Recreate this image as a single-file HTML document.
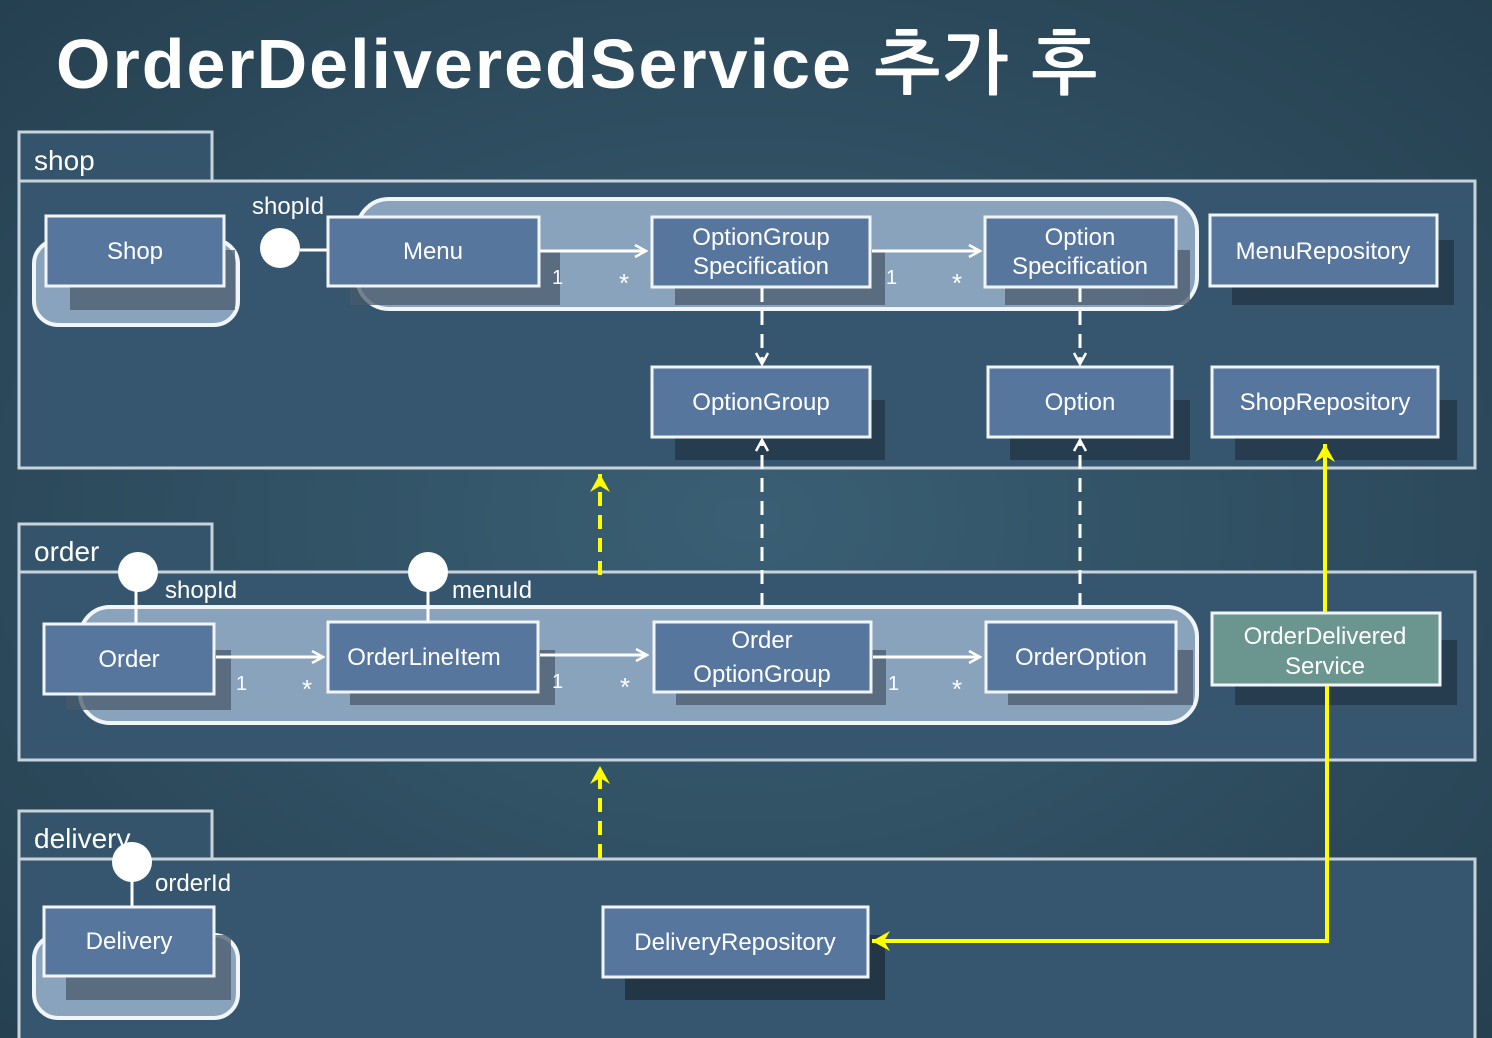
<!DOCTYPE html>
<html><head><meta charset="utf-8"><style>
html,body{margin:0;padding:0;}
body{width:1492px;height:1038px;overflow:hidden;background:#2c4a5c;}
svg{display:block;}
text{font-family:"Liberation Sans","NanumGothic",sans-serif;fill:#fff;}
</style></head><body>
<svg width="1492" height="1038" viewBox="0 0 1492 1038" xmlns="http://www.w3.org/2000/svg">
<defs>
<radialGradient id="bg" cx="50%" cy="50%" r="75%">
<stop offset="0" stop-color="#3a5f74"/><stop offset="1" stop-color="#243e4e"/>
</radialGradient>
<marker id="wa" markerWidth="14" markerHeight="14" refX="12" refY="7" orient="auto" markerUnits="userSpaceOnUse"><path d="M1,1 L12,7 L1,13" fill="none" stroke="#fff" stroke-width="2.5"/></marker>
<marker id="ya" markerWidth="24" markerHeight="24" refX="20" refY="12" orient="auto" markerUnits="userSpaceOnUse"><path d="M2,2 L20,12 L2,22 L8,12 Z" fill="#ffff00"/></marker>
</defs>
<rect width="1492" height="1038" fill="url(#bg)"/>
<text x="56" y="88" font-size="70" font-weight="bold" letter-spacing="2" style="font-family:'Liberation Sans','NanumGothic',sans-serif">OrderDeliveredService 추가 후</text>

<g stroke="#c8d2da" stroke-width="3" fill="#36566f">
<rect x="19" y="132" width="193" height="49" fill="#34546c"/>
<rect x="19" y="181" width="1456" height="287"/>
<rect x="19" y="524" width="193" height="48" fill="#34546c"/>
<rect x="19" y="572" width="1456" height="188"/>
<rect x="19" y="811" width="193" height="48" fill="#34546c"/>
<rect x="19" y="859" width="1456" height="182"/>
</g>
<text x="34" y="170" font-size="28">shop</text>
<text x="34" y="561" font-size="28">order</text>
<text x="34" y="848" font-size="28">delivery</text>

<g stroke="#f2f5f8" stroke-width="4" fill="#8aa3bd">
<rect x="34" y="240" width="204" height="85" rx="24"/>
<rect x="357" y="199" width="840" height="110" rx="32"/>
<rect x="80" y="607" width="1117" height="116" rx="30"/>
<rect x="34" y="935" width="204" height="83" rx="24"/>
</g>

<g fill="#4a596b" opacity="0.75">
<rect x="70" y="250" width="165" height="60"/>
<rect x="350" y="250" width="210" height="55"/>
<rect x="675" y="250" width="210" height="55"/>
<rect x="1005" y="250" width="185" height="55"/>
<rect x="1232" y="240" width="222" height="65" fill="#223444"/>
<rect x="675" y="400" width="210" height="60" fill="#223444"/>
<rect x="1010" y="400" width="180" height="60" fill="#223444"/>
<rect x="1235" y="400" width="222" height="60" fill="#223444"/>
<rect x="66" y="650" width="165" height="60"/>
<rect x="350" y="650" width="205" height="55"/>
<rect x="676" y="650" width="210" height="55"/>
<rect x="1008" y="650" width="185" height="55"/>
<rect x="1235" y="640" width="222" height="65" fill="#223444"/>
<rect x="66" y="935" width="165" height="65"/>
<rect x="625" y="935" width="260" height="65" fill="#1c2c38"/>
</g>

<g stroke="#fff" stroke-width="3" fill="none">
<line x1="540" y1="251" x2="646" y2="251" marker-end="url(#wa)"/>
<line x1="872" y1="251" x2="980" y2="251" marker-end="url(#wa)"/>
<line x1="216" y1="657" x2="323" y2="657" marker-end="url(#wa)"/>
<line x1="540" y1="655" x2="647" y2="655" marker-end="url(#wa)"/>
<line x1="873" y1="657" x2="980" y2="657" marker-end="url(#wa)"/>
<line x1="762" y1="288" x2="762" y2="364" stroke-dasharray="14 9" marker-end="url(#wa)"/>
<line x1="1080" y1="288" x2="1080" y2="364" stroke-dasharray="14 9" marker-end="url(#wa)"/>
<line x1="762" y1="607" x2="762" y2="440" stroke-dasharray="14 9" marker-end="url(#wa)"/>
<line x1="1080" y1="607" x2="1080" y2="440" stroke-dasharray="14 9" marker-end="url(#wa)"/>
<line x1="300" y1="250" x2="328" y2="250"/>
<line x1="136" y1="575" x2="136" y2="624"/>
<line x1="428" y1="575" x2="428" y2="622"/>
<line x1="132" y1="865" x2="132" y2="907"/>
</g>
<g fill="#fff">
<circle cx="280" cy="248" r="20"/>
<circle cx="138" cy="572" r="20"/>
<circle cx="428" cy="572" r="20"/>
<circle cx="132" cy="862" r="20"/>
</g>
<g font-size="24">
<text x="252" y="214">shopId</text>
<text x="165" y="598">shopId</text>
<text x="452" y="598">menuId</text>
<text x="155" y="891">orderId</text>
</g>
<g font-size="20" fill="#e8eef3">
<text x="552" y="284">1</text><text x="619" y="292" font-size="26">*</text>
<text x="886" y="284">1</text><text x="952" y="292" font-size="26">*</text>
<text x="236" y="690">1</text><text x="302" y="698" font-size="26">*</text>
<text x="552" y="688">1</text><text x="620" y="696" font-size="26">*</text>
<text x="888" y="690">1</text><text x="952" y="698" font-size="26">*</text>
</g>

<g stroke="#f2f5f8" stroke-width="3" fill="#56769e">
<rect x="46" y="216" width="178" height="70"/>
<rect x="328" y="217" width="211" height="69"/>
<rect x="652" y="217" width="218" height="70"/>
<rect x="985" y="217" width="191" height="70"/>
<rect x="1210" y="215" width="227" height="71"/>
<rect x="652" y="367" width="218" height="70"/>
<rect x="988" y="367" width="184" height="70"/>
<rect x="1212" y="367" width="226" height="70"/>
<rect x="44" y="624" width="170" height="70"/>
<rect x="328" y="622" width="210" height="70"/>
<rect x="654" y="622" width="217" height="70"/>
<rect x="986" y="622" width="190" height="70"/>
<rect x="1212" y="613" width="228" height="72" fill="#6b968f"/>
<rect x="44" y="907" width="170" height="69"/>
<rect x="603" y="907" width="265" height="70"/>
</g>
<g font-size="24" text-anchor="middle">
<text x="135" y="259">Shop</text>
<text x="433" y="259">Menu</text>
<text x="761" y="245">OptionGroup</text><text x="761" y="274">Specification</text>
<text x="1080" y="245">Option</text><text x="1080" y="274">Specification</text>
<text x="1323" y="259">MenuRepository</text>
<text x="761" y="410">OptionGroup</text>
<text x="1080" y="410">Option</text>
<text x="1325" y="410">ShopRepository</text>
<text x="129" y="667">Order</text>
<text x="424" y="665">OrderLineItem</text>
<text x="762" y="648">Order</text><text x="762" y="682">OptionGroup</text>
<text x="1081" y="665">OrderOption</text>
<text x="1325" y="644">OrderDelivered</text><text x="1325" y="674">Service</text>
<text x="129" y="949">Delivery</text>
<text x="735" y="950">DeliveryRepository</text>
</g>

<g stroke="#ffff00" stroke-width="4" fill="none">
<line x1="600" y1="575" x2="600" y2="474" stroke-dasharray="14 9" marker-end="url(#ya)"/>
<line x1="600" y1="858" x2="600" y2="766" stroke-dasharray="14 9" marker-end="url(#ya)"/>
<line x1="1325" y1="612" x2="1325" y2="444" marker-end="url(#ya)"/>
<polyline points="1327,686 1327,941 872,941" marker-end="url(#ya)"/>
</g>
</svg>
</body></html>
